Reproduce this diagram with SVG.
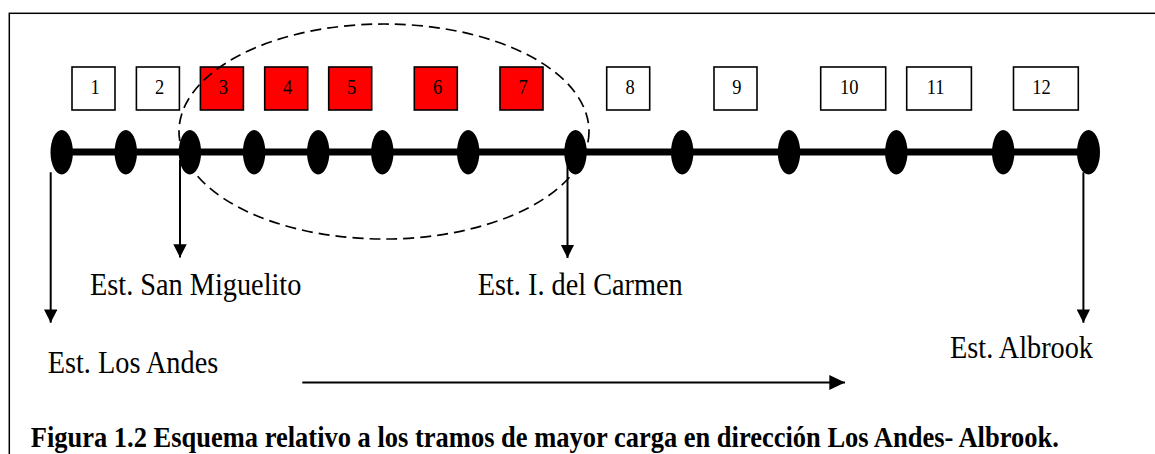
<svg xmlns="http://www.w3.org/2000/svg" width="1155" height="454" viewBox="0 0 1155 454">
  <style>
    .box { stroke: #000; stroke-width: 1.6; fill: #fff; }
    .hot { fill: #ff0000; }
    .num { font-family: "Liberation Serif", "Times New Roman", serif; font-size: 18.5px; fill: #000; }
    .lbl { font-family: "Liberation Serif", "Times New Roman", serif; font-size: 28.3px; fill: #000; }
    .cap { font-family: "Liberation Serif", "Times New Roman", serif; font-size: 26.5px; font-weight: bold; fill: #000; }
    .stn { fill: #000; }
    .arr { stroke: #000; stroke-width: 2; fill: none; }
  </style>
  <defs>
    <marker id="ah" markerUnits="userSpaceOnUse" markerWidth="14" markerHeight="14" refX="13.3" refY="6.7" orient="auto">
      <path d="M0,0 L13.3,6.7 L0,13.4 Z" fill="#000"/>
    </marker>
    <marker id="ah2" markerUnits="userSpaceOnUse" markerWidth="16" markerHeight="16" refX="15.7" refY="7.5" orient="auto">
      <path d="M0,0 L15.7,7.5 L0,15 Z" fill="#000"/>
    </marker>
  </defs>

  <rect x="0" y="0" width="1155" height="454" fill="#fff"/>
  <!-- frame -->
  <rect id="frame" x="9.3" y="13.3" width="1200" height="500" fill="none" stroke="#000" stroke-width="1.5"/>

  <!-- segment boxes -->
  <g id="tramo1"><rect class="box" x="72" y="67" width="43" height="43"/><text class="num" text-anchor="middle" transform="translate(95,94) scale(1,1.1)">1</text></g>
  <g id="tramo2"><rect class="box" x="136.4" y="67" width="43" height="43"/><text class="num" text-anchor="middle" transform="translate(159.5,94) scale(1,1.1)">2</text></g>
  <g id="tramo3"><rect class="box hot" x="200.4" y="67" width="43" height="43"/><text class="num" text-anchor="middle" transform="translate(223.4,94) scale(1,1.1)">3</text></g>
  <g id="tramo4"><rect class="box hot" x="264.7" y="67" width="43" height="43"/><text class="num" text-anchor="middle" transform="translate(287.7,94) scale(1,1.1)">4</text></g>
  <g id="tramo5"><rect class="box hot" x="328.7" y="67" width="43" height="43"/><text class="num" text-anchor="middle" transform="translate(351.7,94) scale(1,1.1)">5</text></g>
  <g id="tramo6"><rect class="box hot" x="414.3" y="67" width="43" height="43"/><text class="num" text-anchor="middle" transform="translate(437.5,94) scale(1,1.1)">6</text></g>
  <g id="tramo7"><rect class="box hot" x="500" y="67" width="43" height="43"/><text class="num" text-anchor="middle" transform="translate(523.2,94) scale(1,1.1)">7</text></g>
  <g id="tramo8"><rect class="box" x="606.7" y="67" width="43" height="43"/><text class="num" text-anchor="middle" transform="translate(630.2,94) scale(1,1.1)">8</text></g>
  <g id="tramo9"><rect class="box" x="714" y="67" width="43" height="43"/><text class="num" text-anchor="middle" transform="translate(736.8,94) scale(1,1.1)">9</text></g>
  <g id="tramo10"><rect class="box" x="820.7" y="67" width="65" height="43"/><text class="num" transform="translate(840,94) scale(1,1.1)">10</text></g>
  <g id="tramo11"><rect class="box" x="906.7" y="67" width="64.7" height="43"/><text class="num" transform="translate(926.7,94) scale(1,1.1)">11</text></g>
  <g id="tramo12"><rect class="box" x="1013.5" y="67" width="64.8" height="43"/><text class="num" transform="translate(1032.3,94) scale(1,1.1)">12</text></g>

  <!-- highlighted zone -->
  <ellipse id="zona" cx="384" cy="131.5" rx="205" ry="107.5" fill="none" stroke="#000" stroke-width="1.7" stroke-dasharray="11,6"/>

  <!-- line -->
  <g id="linea">
    <line x1="61.5" y1="152" x2="1088.5" y2="152" stroke="#000" stroke-width="7"/>
  </g>

  <!-- stations -->
  <g id="estaciones">
    <ellipse id="e1" class="stn" cx="61.7" cy="152.2" rx="11.2" ry="22.2"/>
    <ellipse id="e2" class="stn" cx="125.8" cy="152.2" rx="11.2" ry="22.2"/>
    <ellipse id="e3" class="stn" cx="189.9" cy="152.2" rx="11.2" ry="22.2"/>
    <ellipse id="e4" class="stn" cx="254.1" cy="152.2" rx="11.2" ry="22.2"/>
    <ellipse id="e5" class="stn" cx="318.2" cy="152.2" rx="11.2" ry="22.2"/>
    <ellipse id="e6" class="stn" cx="382.3" cy="152.2" rx="11.2" ry="22.2"/>
    <ellipse id="e7" class="stn" cx="468.2" cy="152.2" rx="11.2" ry="22.2"/>
    <ellipse id="e8" class="stn" cx="575.5" cy="152.2" rx="11.2" ry="22.2"/>
    <ellipse id="e9" class="stn" cx="682.2" cy="152.2" rx="11.2" ry="22.2"/>
    <ellipse id="e10" class="stn" cx="789" cy="152.2" rx="11.2" ry="22.2"/>
    <ellipse id="e11" class="stn" cx="896.3" cy="152.2" rx="11.2" ry="22.2"/>
    <ellipse id="e12" class="stn" cx="1003.2" cy="152.2" rx="11.2" ry="22.2"/>
    <ellipse id="e13" class="stn" cx="1088.5" cy="152.2" rx="11.5" ry="22.2"/>
  </g>

  <!-- connectors -->
  <g id="connectors">
    <line class="arr" x1="50.7" y1="172.3" x2="50.7" y2="322.7" marker-end="url(#ah)"/>
    <line class="arr" x1="180" y1="160" x2="180" y2="257.5" marker-end="url(#ah)"/>
    <line class="arr" x1="567.5" y1="160" x2="567.5" y2="258" marker-end="url(#ah)"/>
    <line class="arr" x1="1083.4" y1="172.3" x2="1083.4" y2="322.7" marker-end="url(#ah)"/>
    <line class="arr" x1="302.3" y1="382.6" x2="845" y2="382.6" marker-end="url(#ah2)"/>
  </g>

  <!-- labels -->
  <g id="lbl-sanmiguelito"><text class="lbl" transform="translate(90,295) scale(1,1.1)">Est. San Miguelito</text></g>
  <g id="lbl-carmen"><text class="lbl" transform="translate(477.7,295) scale(1,1.1)">Est. I. del Carmen</text></g>
  <g id="lbl-losandes"><text class="lbl" transform="translate(47.7,373.3) scale(1,1.1)">Est. Los Andes</text></g>
  <g id="lbl-albrook"><text class="lbl" transform="translate(950,358.3) scale(1,1.1)">Est. Albrook</text></g>

  <g id="caption"><text class="cap" transform="translate(30.7,447) scale(1,1.1)">Figura 1.2 Esquema relativo a los tramos de mayor carga en dirección Los Andes- Albrook.</text></g>
</svg>
